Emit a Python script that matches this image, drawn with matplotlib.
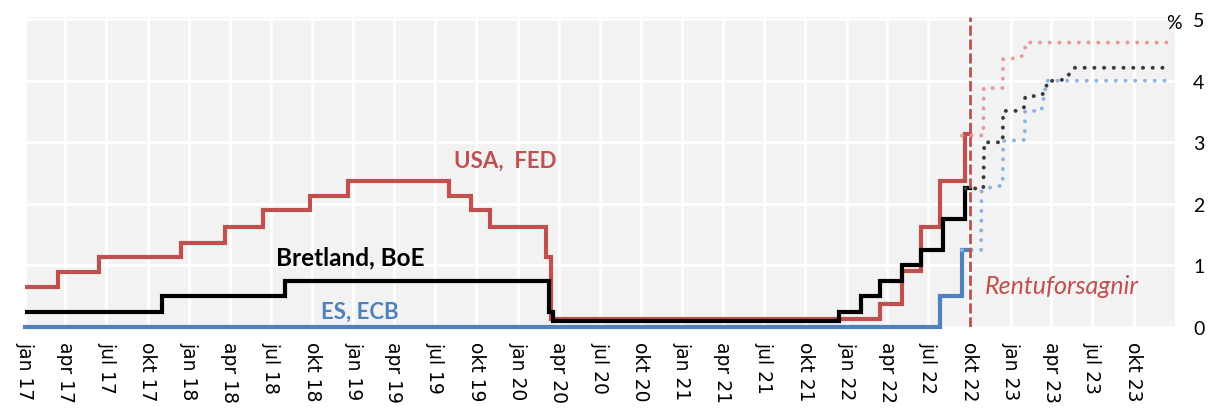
import matplotlib
matplotlib.use("Agg")
import matplotlib.pyplot as plt
import pandas as pd

# Stýrivextir seðlabanka ------------------------------------------------------

# USA, FED (solid, step changes)
fed_dates = pd.to_datetime(["2017-01-01", "2017-03-16", "2017-06-15", "2017-12-14", "2018-03-22",
                            "2018-06-14", "2018-09-27", "2018-12-20", "2019-08-01", "2019-09-19",
                            "2019-10-31", "2020-03-04", "2020-03-16", "2022-03-17", "2022-05-05",
                            "2022-06-16", "2022-07-28", "2022-09-22", "2022-10-03"])
fed_rates = [0.65, 0.89, 1.13, 1.37, 1.63, 1.90, 2.13, 2.37, 2.13, 1.90,
             1.63, 1.13, 0.13, 0.37, 0.91, 1.63, 2.37, 3.13, 3.13]

# Bretland, BoE
boe_dates = pd.to_datetime(["2017-01-01", "2017-11-02", "2018-08-02", "2020-03-11", "2020-03-19",
                            "2021-12-16", "2022-02-03", "2022-03-17", "2022-05-05", "2022-06-16",
                            "2022-08-04", "2022-09-22", "2022-10-03"])
boe_rates = [0.25, 0.50, 0.75, 0.25, 0.09, 0.25, 0.50, 0.75, 1.00, 1.25, 1.75, 2.25, 2.25]

# ES, ECB
ecb_dates = pd.to_datetime(["2017-01-01", "2022-07-27", "2022-09-14", "2022-10-03"])
ecb_rates = [0.0, 0.50, 1.25, 1.25]

# Rentuforsagnir (dotted)
fed_fc_dates = pd.to_datetime(["2022-09-14", "2022-11-01", "2022-11-02", "2022-12-14", "2022-12-15",
                               "2023-01-21", "2023-02-01", "2023-02-03", "2023-12-22"])
fed_fc_rates = [3.11, 3.11, 3.88, 3.88, 4.35, 4.37, 4.45, 4.62, 4.62]

boe_fc_dates = pd.to_datetime(["2022-09-22", "2022-11-01", "2022-11-03", "2022-12-14", "2022-12-15",
                               "2023-01-21", "2023-02-01", "2023-02-02", "2023-03-10", "2023-03-21",
                               "2023-03-22", "2023-05-03", "2023-05-20", "2023-12-24"])
boe_fc_rates = [2.25, 2.25, 3.00, 3.00, 3.51, 3.51, 3.58, 3.74, 3.76, 3.85,
                3.99, 4.02, 4.21, 4.21]

ecb_fc_dates = pd.to_datetime(["2022-09-14", "2022-10-27", "2022-10-28", "2022-11-05", "2022-12-14",
                               "2022-12-15", "2023-02-01", "2023-02-02", "2023-03-10", "2023-03-22",
                               "2023-12-22"])
ecb_fc_rates = [1.25, 1.25, 2.20, 2.25, 2.30, 3.02, 3.04, 3.51, 3.51, 4.00, 4.00]

forecast_start = pd.Timestamp("2022-10-03")

quarter_names = ["jan", "apr", "jul", "okt"]
tick_dates = pd.date_range("2017-01-01", "2023-10-01", freq="QS")
tick_labels = [f"{quarter_names[(d.month - 1) // 3]} {d.year % 100}" for d in tick_dates]

# Litir
red = "#C0504D"
black = "#000000"
blue = "#4F81BD"
red_light = "#E39B9B"
grey_dark = "#3A3A3A"
blue_light = "#8DB3E2"

# Mynd ------------------------------------------------------------------------

fig = plt.figure(figsize=(12.15, 4.1), dpi=100)
ax = fig.add_axes([25 / 1215, 82 / 410, 1150 / 1215, 309.7 / 410])
ax.set_facecolor("#F2F2F2")
for s in ax.spines.values():
    s.set_visible(False)

ax.set_xlim(pd.Timestamp("2017-01-01"), pd.Timestamp("2024-01-01"))
ax.set_ylim(0, 5.03)
ax.set_xticks(tick_dates)
ax.set_xticklabels(tick_labels, rotation=-90, fontsize=13.5, family="DejaVu Sans")
ax.set_yticks(range(6))
ax.set_yticklabels([str(v) for v in range(6)], fontsize=14, family="Lato")
ax.yaxis.tick_right()
ax.tick_params(axis="x", length=0, pad=10)
ax.tick_params(axis="y", length=0, pad=13)
ax.grid(True, color="white", lw=2)
ax.set_axisbelow(True)

# raungögn
ax.plot(fed_dates, fed_rates, drawstyle="steps-post", color=red, lw=3, solid_joinstyle="miter")
ax.plot(boe_dates, boe_rates, drawstyle="steps-post", color=black, lw=3, solid_joinstyle="miter")
ax.plot(ecb_dates, ecb_rates, drawstyle="steps-post", color=blue, lw=3, clip_on=False,
        solid_joinstyle="miter")

# spár
for d, r, c in [(fed_fc_dates, fed_fc_rates, red_light),
                (boe_fc_dates, boe_fc_rates, grey_dark),
                (ecb_fc_dates, ecb_fc_rates, blue_light)]:
    ax.plot(d, r, color=c, lw=2.8, dashes=(0.05, 2.45), dash_capstyle="round")

ax.axvline(forecast_start, color=red, lw=2, dashes=(3.7, 1.3))

# Textar
ax.text(0.418, 0.5376, "USA,  FED", transform=ax.transAxes, color=red, fontsize=16,
        fontweight="bold", family="Lato", ha="center", va="center")
ax.text(0.2826, 0.226, "Bretland, BoE", transform=ax.transAxes, color=black, fontsize=17.5,
        fontweight="bold", family="Lato", ha="center", va="center")
ax.text(0.2913, 0.05, "ES, ECB", transform=ax.transAxes, color=blue, fontsize=16,
        fontweight="bold", family="Lato", ha="center", va="center")
ax.text(0.9017, 0.1324, "Rentuforsagnir", transform=ax.transAxes, color=red, fontsize=18,
        style="italic", family="Lato", ha="center", va="center")
ax.text(0.9991, 0.9816, "%", transform=ax.transAxes, color=black, fontsize=14,
        family="Lato", ha="center", va="center")

fig.savefig("out.png", dpi=100)
